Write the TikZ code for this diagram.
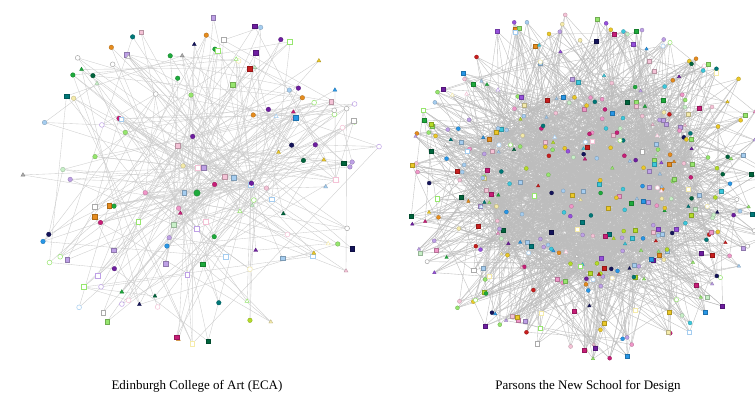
\documentclass[tikz,border=0pt]{standalone}
\usepackage{fontspec}
\setmainfont{Liberation Serif}
\usetikzlibrary{shapes.geometric}
\definecolor{mgreen}{RGB}{30,170,60}
\definecolor{dgreen}{RGB}{0,100,60}
\definecolor{mpurple}{RGB}{110,30,160}
\definecolor{navy}{RGB}{20,20,90}
\definecolor{mteal}{RGB}{0,120,120}
\definecolor{morange}{RGB}{230,140,30}
\definecolor{myellow}{RGB}{235,200,40}
\definecolor{mpink}{RGB}{240,150,200}
\definecolor{mmagenta}{RGB}{200,30,120}
\definecolor{skyb}{RGB}{40,150,230}
\definecolor{lblue}{RGB}{165,205,240}
\definecolor{lgreen}{RGB}{150,230,110}
\definecolor{lavender}{RGB}{190,160,230}
\definecolor{mred}{RGB}{200,30,30}
\definecolor{lime}{RGB}{180,220,40}
\definecolor{violet2}{RGB}{150,80,220}
\definecolor{lpink}{RGB}{245,195,215}
\definecolor{mcyan}{RGB}{60,200,220}
\definecolor{lgray}{RGB}{170,170,170}
\definecolor{pyellow}{RGB}{245,235,170}
\definecolor{pgreen}{RGB}{200,240,200}
\begin{document}
\begin{tikzpicture}[x=1pt,y=-1pt,
  edgeL/.style={draw=black!20, line width=0.35pt},
  edgeR/.style={draw=black!26, line width=0.35pt},
  fmk/.style={inner sep=0pt, minimum size=4.6pt, regular polygon sides=3, fill=#1, draw=#1!75!black, line width=0.3pt},
  omk/.style={inner sep=0pt, minimum size=4.8pt, regular polygon sides=3, fill=white, draw=#1, line width=0.5pt},
  captxt/.style={font=\fontsize{13}{15}\selectfont, inner sep=0pt}]
\useasboundingbox[fill=white] (0,0) rectangle (755,403);
\pgfmathdeclarerandomlist{colsL}{{mgreen}{dgreen}{mpurple}{navy}{mteal}{morange}{myellow}{mpink}{mmagenta}{skyb}{lblue}{lgreen}{lavender}{mred}{lime}{lgray}{lpink}{navy}{mpurple}{pyellow}{pgreen}}
\pgfmathdeclarerandomlist{colsO}{{lgray}{lpink}{lblue}{lavender}{lgray}{lgreen}{pyellow}}
\pgfmathdeclarerandomlist{colsR}{{mgreen}{dgreen}{mpurple}{navy}{mteal}{morange}{myellow}{mpink}{mmagenta}{skyb}{lblue}{lgreen}{lavender}{mred}{lime}{violet2}{lpink}{mcyan}{lgreen}{lblue}{lpink}{lavender}{myellow}{pyellow}{pgreen}}
\pgfmathdeclarerandomlist{shpL}{{rectangle}{rectangle}{circle}{circle}{circle}{regular polygon}}
\pgfmathdeclarerandomlist{shpR}{{rectangle}{rectangle}{circle}{circle}{circle}{regular polygon}}
\pgfmathsetseed{4711}
% ---------- left graph: positions
\coordinate (L0) at (197,193);
\foreach \i in {1,...,150}{
  \pgfmathsetmacro\ang{360*rnd}
  \pgfmathsetmacro\rr{rnd}
  \pgfmathsetmacro\rad{\i<15 ? 0.3*sqrt(\rr) : pow(\rr,0.38)}
  \coordinate (L\i) at ({197+188*\rad*cos(\ang)},{182+165*\rad*sin(\ang)});
}
% ---------- left graph: edges
\foreach \i in {1,...,150}{
  \pgfmathtruncatemacro\j{random(1,150)}
  \draw[edgeL] (L\i) -- (L\j);
  \pgfmathtruncatemacro\k{random(0,14)}
  \draw[edgeL] (L\i) -- (L\k);
}
% ---------- left graph: markers
\foreach \i in {1,...,150}{
  \pgfmathrandomitem\cc{colsL}
  \pgfmathrandomitem\co{colsO}
  \pgfmathrandomitem\shp{shpL}
  \pgfmathtruncatemacro\t{random(1,10)}
  \ifnum\t<4 \node[omk=\co,shape=\shp] (LM\i) at (L\i) {};\else\node[fmk=\cc,shape=\shp] (LM\i) at (L\i) {};\fi
}
\node[fmk=mgreen,circle,minimum size=6.5pt] (LM0) at (L0) {};
% ---------- right graph
\begin{scope}
\clip (400,0) rectangle (755,370);
\foreach \i in {1,...,460}{
  \pgfmathsetmacro\ang{360*rnd}
  \pgfmathsetmacro\rr{rnd}
  \pgfmathsetmacro\rad{\i<221 ? 0.62*sqrt(\rr) : 0.45+0.58*sqrt(\rr)}
  \coordinate (R\i) at ({590+180*\rad*cos(\ang)},{184+172*\rad*sin(\ang)});
}
\foreach \i in {1,...,460}{
  \pgfmathtruncatemacro\j{random(1,220)}
  \draw[edgeR] (R\i) -- (R\j);
  \pgfmathtruncatemacro\k{random(1,460)}
  \draw[edgeR] (R\i) -- (R\k);
  \pgfmathtruncatemacro\m{random(1,220)}
  \draw[edgeR] (R\i) -- (R\m);
  \pgfmathtruncatemacro\n{random(1,220)}
  \draw[edgeR] (R\i) -- (R\n);
}
\foreach \i in {1,...,460}{
  \pgfmathrandomitem\cc{colsR}
  \pgfmathrandomitem\co{colsO}
  \pgfmathrandomitem\shp{shpR}
  \pgfmathtruncatemacro\t{random(1,10)}
  \ifnum\t<2 \node[omk=\co,shape=\shp,minimum size=4.2pt] (RM\i) at (R\i) {};\else\node[fmk=\cc,shape=\shp,minimum size=4pt] (RM\i) at (R\i) {};\fi
}
\end{scope}
% ---------- captions
\node[captxt] (capL) at (197,386) {Edinburgh College of Art (ECA)};
\node[captxt] (capR) at (588,386) {Parsons the New School for Design};
\end{tikzpicture}
\end{document}
